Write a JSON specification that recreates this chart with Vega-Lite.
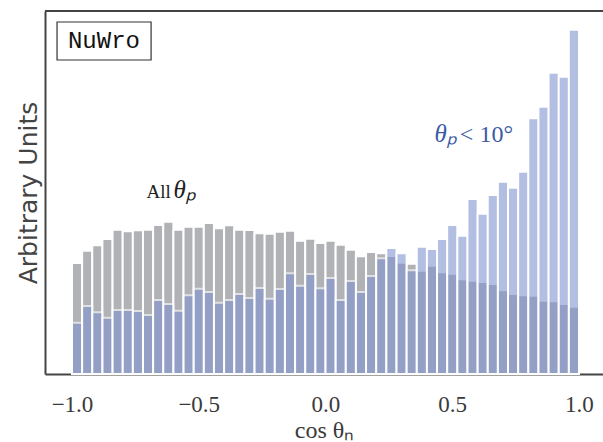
{
  "$schema": "https://vega.github.io/schema/vega-lite/v6.json",
  "autosize": "none",
  "padding": {"left": 45, "top": 11, "right": 0, "bottom": 68},
  "width": 558,
  "height": 363,
  "background": "white",
  "config": {"view": {"stroke": null}},
  "layer": [
    {
      "data": {"values": [
        {"lo": -1.00, "hi": -0.96, "all": 111, "sel": 51.3},
        {"lo": -0.96, "hi": -0.92, "all": 123.3, "sel": 68},
        {"lo": -0.92, "hi": -0.88, "all": 128.7, "sel": 61.7},
        {"lo": -0.88, "hi": -0.84, "all": 135, "sel": 56.3},
        {"lo": -0.84, "hi": -0.80, "all": 144.3, "sel": 64},
        {"lo": -0.80, "hi": -0.76, "all": 142.7, "sel": 64},
        {"lo": -0.76, "hi": -0.72, "all": 143.7, "sel": 63},
        {"lo": -0.72, "hi": -0.68, "all": 144.3, "sel": 59},
        {"lo": -0.68, "hi": -0.64, "all": 149, "sel": 74},
        {"lo": -0.64, "hi": -0.60, "all": 152.3, "sel": 70},
        {"lo": -0.60, "hi": -0.56, "all": 144.3, "sel": 63.3},
        {"lo": -0.56, "hi": -0.52, "all": 147.3, "sel": 78.7},
        {"lo": -0.52, "hi": -0.48, "all": 147.3, "sel": 85.3},
        {"lo": -0.48, "hi": -0.44, "all": 151, "sel": 82},
        {"lo": -0.44, "hi": -0.40, "all": 145.7, "sel": 71.3},
        {"lo": -0.40, "hi": -0.36, "all": 148.7, "sel": 74},
        {"lo": -0.36, "hi": -0.32, "all": 144.3, "sel": 80},
        {"lo": -0.32, "hi": -0.28, "all": 144, "sel": 76},
        {"lo": -0.28, "hi": -0.24, "all": 140.7, "sel": 86},
        {"lo": -0.24, "hi": -0.20, "all": 140.3, "sel": 75.3},
        {"lo": -0.20, "hi": -0.16, "all": 142.3, "sel": 85},
        {"lo": -0.16, "hi": -0.12, "all": 143.3, "sel": 100.7},
        {"lo": -0.12, "hi": -0.08, "all": 133.3, "sel": 88.3},
        {"lo": -0.08, "hi": -0.04, "all": 135.3, "sel": 100},
        {"lo": -0.04, "hi": 0.00, "all": 131, "sel": 85.7},
        {"lo": 0.00, "hi": 0.04, "all": 133.3, "sel": 96},
        {"lo": 0.04, "hi": 0.08, "all": 129.3, "sel": 74},
        {"lo": 0.08, "hi": 0.12, "all": 124.3, "sel": 93},
        {"lo": 0.12, "hi": 0.16, "all": 117.7, "sel": 82},
        {"lo": 0.16, "hi": 0.20, "all": 122, "sel": 98},
        {"lo": 0.20, "hi": 0.24, "all": 120.7, "sel": 115.7},
        {"lo": 0.24, "hi": 0.28, "all": 118, "sel": 126},
        {"lo": 0.28, "hi": 0.32, "all": 111.3, "sel": 120.7},
        {"lo": 0.32, "hi": 0.36, "all": 110.3, "sel": 103.7},
        {"lo": 0.36, "hi": 0.40, "all": 103.3, "sel": 127.3},
        {"lo": 0.40, "hi": 0.44, "all": 108.3, "sel": 125},
        {"lo": 0.44, "hi": 0.48, "all": 101.7, "sel": 135},
        {"lo": 0.48, "hi": 0.52, "all": 100.3, "sel": 149},
        {"lo": 0.52, "hi": 0.56, "all": 94.7, "sel": 138.3},
        {"lo": 0.56, "hi": 0.60, "all": 93.3, "sel": 175},
        {"lo": 0.60, "hi": 0.64, "all": 92, "sel": 160.3},
        {"lo": 0.64, "hi": 0.68, "all": 90, "sel": 179},
        {"lo": 0.68, "hi": 0.72, "all": 83.7, "sel": 192.3},
        {"lo": 0.72, "hi": 0.76, "all": 80, "sel": 186.3},
        {"lo": 0.76, "hi": 0.80, "all": 78.7, "sel": 202.3},
        {"lo": 0.80, "hi": 0.84, "all": 78.3, "sel": 255.7},
        {"lo": 0.84, "hi": 0.88, "all": 73.3, "sel": 267.3},
        {"lo": 0.88, "hi": 0.92, "all": 72.7, "sel": 301.3},
        {"lo": 0.92, "hi": 0.96, "all": 70, "sel": 297.3},
        {"lo": 0.96, "hi": 1.00, "all": 67.3, "sel": 344.3}
      ]},
      "layer": [
        {
          "mark": {"type": "bar", "color": "#b1b2b6", "stroke": "white", "strokeWidth": 2},
          "encoding": {
            "x": {"field": "lo", "type": "quantitative",
                  "scale": {"domain": [-1.1065, 1.0947], "nice": false, "zero": false},
                  "axis": {"values": [-1, -0.5, 0, 0.5, 1], "format": ".1f", "grid": false, "ticks": false,
                           "labelPadding": 19, "labelFont": "Liberation Serif", "labelFontSize": 23,
                           "labelColor": "#3a3a3a", "domainColor": "#444", "domainWidth": 2,
                           "title": "cos θₙ", "titleFont": "Liberation Serif", "titleFontSize": 24,
                           "titleFontWeight": "normal", "titleColor": "#3a3a3a", "titlePadding": 2}},
            "x2": {"field": "hi"},
            "y": {"field": "all", "type": "quantitative",
                  "scale": {"domain": [0, 363], "nice": false},
                  "axis": {"labels": false, "ticks": false, "grid": false, "domainColor": "#444", "domainWidth": 2,
                           "title": "Arbitrary Units", "titleFont": "DejaVu Sans", "titleFontSize": 25,
                           "titleFontWeight": "normal", "titleColor": "#444", "titlePadding": 4}},
            "y2": {"datum": 0}
          }
        },
        {
          "mark": {"type": "bar", "color": "#8094cf", "opacity": 0.6, "stroke": "white", "strokeWidth": 2},
          "encoding": {
            "x": {"field": "lo", "type": "quantitative"},
            "x2": {"field": "hi"},
            "y": {"field": "sel", "type": "quantitative"},
            "y2": {"datum": 0}
          }
        }
      ]
    },
    {
      "data": {"values": [{}]},
      "mark": {"type": "rule", "color": "#444", "strokeWidth": 2},
      "encoding": {"y": {"datum": 363}}
    },
    {
      "data": {"values": [{}]},
      "mark": {"type": "rect", "fill": "white", "stroke": "#333", "strokeWidth": 1.2},
      "encoding": {"x": {"datum": -1.059}, "x2": {"datum": -0.688}, "y": {"datum": 352}, "y2": {"datum": 314}}
    },
    {
      "data": {"values": [{}]},
      "mark": {"type": "text", "font": "Liberation Mono", "fontSize": 24, "fill": "#111", "align": "center", "baseline": "middle"},
      "encoding": {"x": {"datum": -0.874}, "y": {"datum": 333}, "text": {"value": "NuWro"}}
    },
    {
      "data": {"values": [{}]},
      "mark": {"type": "text", "font": "Liberation Serif", "fontSize": 19, "fill": "#222", "align": "right", "baseline": "alphabetic"},
      "encoding": {"x": {"datum": -0.61}, "y": {"datum": 176}, "text": {"value": "All"}}
    },
    {
      "data": {"values": [{}]},
      "mark": {"type": "text", "font": "Liberation Serif", "fontSize": 25, "fontStyle": "italic", "fill": "#222", "align": "left", "baseline": "alphabetic"},
      "encoding": {"x": {"datum": -0.6}, "y": {"datum": 176}, "text": {"value": "θₚ"}}
    },
    {
      "data": {"values": [{}]},
      "mark": {"type": "text", "font": "Liberation Serif", "fontSize": 25, "fontStyle": "italic", "fill": "#3b5ba5", "align": "left", "baseline": "alphabetic"},
      "encoding": {"x": {"datum": 0.43}, "y": {"datum": 232}, "text": {"value": "θₚ"}}
    },
    {
      "data": {"values": [{}]},
      "mark": {"type": "text", "font": "Liberation Serif", "fontSize": 24, "fill": "#3b5ba5", "align": "left", "baseline": "alphabetic"},
      "encoding": {"x": {"datum": 0.53}, "y": {"datum": 232}, "text": {"value": "< 10°"}}
    }
  ]
}
